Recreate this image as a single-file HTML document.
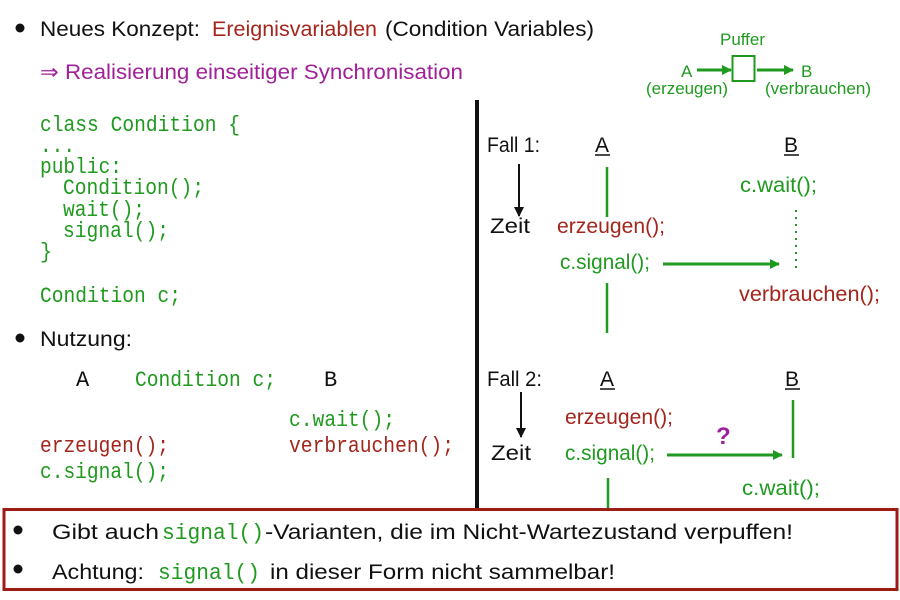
<!DOCTYPE html>
<html><head><meta charset="utf-8"><style>
html,body{margin:0;padding:0;background:#fff;}
svg{display:block}
.s{font-family:"Liberation Sans",sans-serif;font-size:21px}
.m{font-family:"Liberation Mono",monospace;font-size:22px}
.g{fill:#1f9a1f}.r{fill:#a3261d}.p{fill:#a0209a}.k{fill:#111}
</style></head><body>
<svg width="900" height="600" viewBox="0 0 900 600">
<defs>
<marker id="ag" markerWidth="10" markerHeight="10" refX="9" refY="5" orient="auto" markerUnits="userSpaceOnUse"><path d="M0,0 L10,5 L0,10 z" fill="#1f9a1f"/></marker>
<marker id="ak" markerWidth="10" markerHeight="12" refX="9" refY="6" orient="auto" markerUnits="userSpaceOnUse"><path d="M0,1 L10,6 L0,11 z" fill="#111"/></marker>
</defs>
<circle cx="20" cy="28" r="4.5" fill="#111"/>
<text x="40" y="36" class="s k" textLength="160" lengthAdjust="spacingAndGlyphs">Neues Konzept:</text>
<text x="212" y="36" class="s r" textLength="165" lengthAdjust="spacingAndGlyphs">Ereignisvariablen</text>
<text x="385" y="36" class="s k" textLength="209" lengthAdjust="spacingAndGlyphs">(Condition Variables)</text>
<text x="40" y="79" class="s p" textLength="423" lengthAdjust="spacingAndGlyphs">⇒ Realisierung einseitiger Synchronisation</text>
<g class="g" style="font-family:'Liberation Sans',sans-serif;font-size:17px">
<text x="720" y="45" textLength="45" lengthAdjust="spacingAndGlyphs">Puffer</text>
<text x="681" y="77">A</text>
<text x="801" y="77">B</text>
<text x="646" y="94" textLength="82" lengthAdjust="spacingAndGlyphs">(erzeugen)</text>
<text x="765" y="94" textLength="106" lengthAdjust="spacingAndGlyphs">(verbrauchen)</text>
</g>
<rect x="732.5" y="56" width="22" height="25" fill="none" stroke="#1f9a1f" stroke-width="2"/>
<line x1="697" y1="70" x2="731" y2="70" stroke="#1f9a1f" stroke-width="3" marker-end="url(#ag)"/>
<line x1="757" y1="70" x2="793" y2="70" stroke="#1f9a1f" stroke-width="3" marker-end="url(#ag)"/>
<line x1="477" y1="100" x2="477" y2="508" stroke="#111" stroke-width="4"/>
<g class="m g">
<text x="40" y="131" textLength="200" lengthAdjust="spacingAndGlyphs">class Condition {</text>
<text x="40" y="152" textLength="35" lengthAdjust="spacingAndGlyphs">...</text>
<text x="40" y="173" textLength="82" lengthAdjust="spacingAndGlyphs">public:</text>
<text x="63" y="194" textLength="141" lengthAdjust="spacingAndGlyphs">Condition();</text>
<text x="63" y="216" textLength="82" lengthAdjust="spacingAndGlyphs">wait();</text>
<text x="63" y="237" textLength="106" lengthAdjust="spacingAndGlyphs">signal();</text>
<text x="40" y="258" textLength="12" lengthAdjust="spacingAndGlyphs">}</text>
<text x="40" y="302" textLength="141" lengthAdjust="spacingAndGlyphs">Condition c;</text>
</g>
<circle cx="20" cy="338" r="4.5" fill="#111"/>
<text x="40" y="346" class="s k" textLength="92" lengthAdjust="spacingAndGlyphs">Nutzung:</text>
<text x="76" y="386" class="m k">A</text>
<text x="135" y="386" class="m g" textLength="141" lengthAdjust="spacingAndGlyphs">Condition c;</text>
<text x="324" y="386" class="m k">B</text>
<text x="289" y="426" class="m g" textLength="106" lengthAdjust="spacingAndGlyphs">c.wait();</text>
<text x="40" y="452" class="m r" textLength="129" lengthAdjust="spacingAndGlyphs">erzeugen();</text>
<text x="289" y="452" class="m r" textLength="165" lengthAdjust="spacingAndGlyphs">verbrauchen();</text>
<text x="40" y="478" class="m g" textLength="129" lengthAdjust="spacingAndGlyphs">c.signal();</text>
<text x="487" y="152" class="s k" textLength="53" lengthAdjust="spacingAndGlyphs">Fall 1:</text>
<text x="595" y="152" class="s k">A</text><line x1="595" y1="155" x2="610" y2="155" stroke="#111" stroke-width="1.5"/>
<text x="784" y="152" class="s k">B</text><line x1="784" y1="155" x2="799" y2="155" stroke="#111" stroke-width="1.5"/>
<line x1="519" y1="164" x2="519" y2="216" stroke="#111" stroke-width="2" marker-end="url(#ak)"/>
<line x1="607" y1="167" x2="607" y2="217" stroke="#1f9a1f" stroke-width="2.5"/>
<text x="740" y="192" class="s g" textLength="77" lengthAdjust="spacingAndGlyphs">c.wait();</text>
<line x1="796" y1="210" x2="796" y2="268" stroke="#1f9a1f" stroke-width="2" stroke-dasharray="2,5"/>
<text x="490" y="233" class="s k" textLength="40" lengthAdjust="spacingAndGlyphs">Zeit</text>
<text x="557" y="233" class="s r" textLength="108" lengthAdjust="spacingAndGlyphs">erzeugen();</text>
<text x="560" y="269" class="s g" textLength="90" lengthAdjust="spacingAndGlyphs">c.signal();</text>
<line x1="663" y1="264" x2="779" y2="264" stroke="#1f9a1f" stroke-width="3" marker-end="url(#ag)"/>
<line x1="607" y1="283" x2="607" y2="333" stroke="#1f9a1f" stroke-width="2.5"/>
<text x="739" y="301" class="s r" textLength="141" lengthAdjust="spacingAndGlyphs">verbrauchen();</text>
<text x="487" y="386" class="s k" textLength="55" lengthAdjust="spacingAndGlyphs">Fall 2:</text>
<text x="600" y="386" class="s k">A</text><line x1="600" y1="389" x2="615" y2="389" stroke="#111" stroke-width="1.5"/>
<text x="785" y="386" class="s k">B</text><line x1="785" y1="389" x2="800" y2="389" stroke="#111" stroke-width="1.5"/>
<line x1="521" y1="392" x2="521" y2="437" stroke="#111" stroke-width="2" marker-end="url(#ak)"/>
<text x="565" y="424" class="s r" textLength="108" lengthAdjust="spacingAndGlyphs">erzeugen();</text>
<text x="716" y="444" class="s p" style="font-size:24px;font-weight:bold">?</text>
<line x1="793" y1="400" x2="793" y2="458" stroke="#1f9a1f" stroke-width="2.5"/>
<text x="491" y="460" class="s k" textLength="40" lengthAdjust="spacingAndGlyphs">Zeit</text>
<text x="565" y="460" class="s g" textLength="90" lengthAdjust="spacingAndGlyphs">c.signal();</text>
<line x1="667" y1="455" x2="782" y2="455" stroke="#1f9a1f" stroke-width="3" marker-end="url(#ag)"/>
<line x1="608" y1="478" x2="608" y2="508" stroke="#1f9a1f" stroke-width="2.5"/>
<text x="742" y="495" class="s g" textLength="78" lengthAdjust="spacingAndGlyphs">c.wait();</text>
<rect x="4" y="509.5" width="893" height="80" fill="#fff" stroke="#9e1c16" stroke-width="3"/>
<circle cx="18" cy="530" r="4.5" fill="#111"/>
<circle cx="18" cy="569" r="4.5" fill="#111"/>
<text x="52" y="539" class="s k" textLength="107" lengthAdjust="spacingAndGlyphs">Gibt auch</text>
<text x="162" y="539" class="m g" textLength="102" lengthAdjust="spacingAndGlyphs">signal()</text>
<text x="265" y="539" class="s k" textLength="528" lengthAdjust="spacingAndGlyphs">-Varianten, die im Nicht-Wartezustand verpuffen!</text>
<text x="52" y="579" class="s k" textLength="92" lengthAdjust="spacingAndGlyphs">Achtung:</text>
<text x="158" y="579" class="m g" textLength="102" lengthAdjust="spacingAndGlyphs">signal()</text>
<text x="270" y="579" class="s k" textLength="345" lengthAdjust="spacingAndGlyphs">in dieser Form nicht sammelbar!</text>
</svg>
</body></html>
